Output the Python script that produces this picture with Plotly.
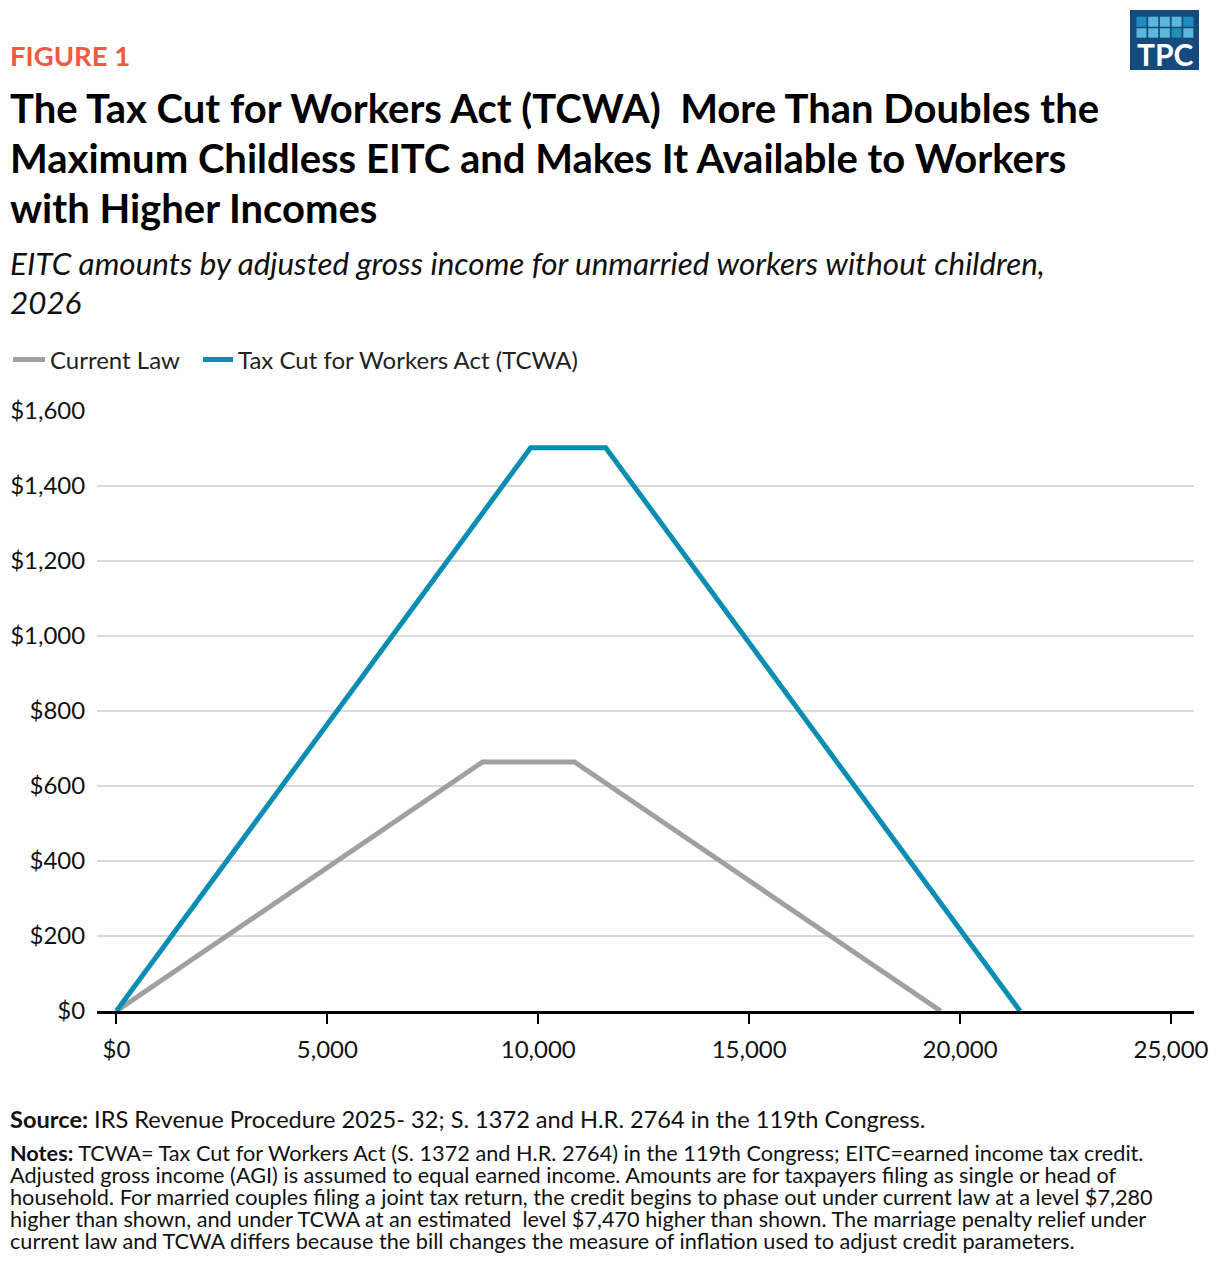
import plotly.graph_objects as go

# ---- data ----
current_law_x = [0, 8680, 10860, 19540]
current_law_y = [0, 664, 664, 0]
tcwa_x = [0, 9820, 11600, 21420]
tcwa_y = [0, 1502, 1502, 0]
x_tickvals = [0, 5000, 10000, 15000, 20000, 25000]
x_ticktext = ["$0", "5,000", "10,000", "15,000", "20,000", "25,000"]
y_tickvals = [0, 200, 400, 600, 800, 1000, 1200, 1400, 1600]
y_ticktext = ["$0", "$200", "$400", "$600", "$800", "$1,000", "$1,200", "$1,400", "$1,600"]

FONT = "Lato, 'Noto Sans', sans-serif"
O = 8  # page offset of the figure in the browser window
W, H = 1220 - O, 1274 - O
L, R, T, B = 97 - O, 1194 - O, 411 - O, 1011 - O


def px(x):
    return (x - O - L) / (R - L)


def py(y):
    return (B - (y - O)) / (B - T)


def cx(x):
    return (x - O) / W


def cy(y):
    return 1 - (y - O) / H


fig = go.Figure()
fig.add_trace(go.Scatter(x=current_law_x, y=current_law_y, mode="lines", name="Current Law",
                         line=dict(color="#A0A0A0", width=5), legend="legend"))
fig.add_trace(go.Scatter(x=tcwa_x, y=tcwa_y, mode="lines", name="Tax Cut for Workers Act (TCWA)",
                         line=dict(color="#0A8DB2", width=5), legend="legend2"))

leg_common = dict(orientation="h", xref="container", yref="container", xanchor="left",
                  yanchor="middle", font=dict(size=24, color="#222222"),
                  bgcolor="rgba(0,0,0,0)", borderwidth=0)

fig.update_layout(
    width=W, height=H,
    margin=dict(l=L, r=W - R, t=T, b=H - B, autoexpand=False),
    paper_bgcolor="white", plot_bgcolor="white",
    font=dict(family=FONT, color="#111111", size=24),
    showlegend=True,
    legend=dict(x=cx(2), y=cy(360), itemwidth=32, **leg_common),
    legend2=dict(x=cx(198), y=cy(360), itemwidth=30, **leg_common),
)
fig.update_xaxes(range=[-460, 25545], tickvals=x_tickvals, ticktext=x_ticktext,
                 showgrid=False, zeroline=False, showline=True, linecolor="black", linewidth=2.5,
                 ticks="outside", ticklen=10, tickwidth=2, tickcolor="black", ticklabelstandoff=5,
                 tickfont=dict(size=24, color="#111111"), fixedrange=True)
fig.update_yaxes(range=[0, 1600], tickvals=y_tickvals, ticktext=y_ticktext,
                 showgrid=True, gridcolor="#D9D9D9", gridwidth=2, zeroline=False, showline=False,
                 ticks="outside", ticklen=6, tickcolor="rgba(0,0,0,0)",
                 tickfont=dict(size=24, color="#111111"), fixedrange=True)

ann = []


def text(s, x, y, size, color="#111111", anchor="left"):
    ann.append(dict(text=s, x=px(x), y=py(y), xref="paper", yref="paper", xanchor=anchor,
                    yanchor="middle", showarrow=False, font=dict(family=FONT, size=size, color=color)))


LX = 8
text("<b>FIGURE 1</b>", LX, 55, 27.5, color="#F05A41")
title_lines = ["The Tax Cut for Workers Act (TCWA)  More Than Doubles the",
               "Maximum Childless EITC and Makes It Available to Workers",
               "with Higher Incomes"]
for i, s in enumerate(title_lines):
    text("<b>" + s + "</b>", LX, 108 + 50 * i, 40, color="#000000")
sub_lines = ["<i>EITC amounts by adjusted gross income for unmarried workers without children,</i>",
             "<i>2026</i>"]
for i, s in enumerate(sub_lines):
    text(s, LX, 263 + 39 * i, 31.4, color="#111111")

text("<b>Source:</b> IRS Revenue Procedure 2025- 32; S. 1372 and H.R. 2764 in the 119th Congress.",
     LX, 1119, 23.6)
notes = [
    "<b>Notes:</b> TCWA= Tax Cut for Workers Act (S. 1372 and H.R. 2764) in the 119th Congress; EITC=earned income tax credit.",
    "Adjusted gross income (AGI) is assumed to equal earned income. Amounts are for taxpayers filing as single or head of",
    "household. For married couples filing a joint tax return, the credit begins to phase out under current law at a level $7,280",
    "higher than shown, and under TCWA at an estimated  level $7,470 higher than shown. The marriage penalty relief under",
    "current law and TCWA differs because the bill changes the measure of inflation used to adjust credit parameters.",
]
for i, s in enumerate(notes):
    text(s, LX, 1153 + 22 * i, 21.7)

# TPC logo
shapes = [dict(type="rect", xref="paper", yref="paper", x0=px(1130), x1=px(1199), y0=py(70), y1=py(10),
               fillcolor="#174A7C", line=dict(width=0), layer="above")]
light, dark = "#5BB8DA", "#1E8FBA"
row_colors = [[dark, light, light, light, dark], [light, light, light, dark, light]]
for r, (y0, y1) in enumerate([(16.7, 26.7), (28.3, 37.7)]):
    for c in range(5):
        x0 = 1136.5 + c * 11.7
        shapes.append(dict(type="rect", xref="paper", yref="paper", x0=px(x0), x1=px(x0 + 10),
                           y0=py(y1), y1=py(y0), fillcolor=row_colors[r][c], line=dict(width=0),
                           layer="above"))
ann.append(dict(text="<b>TPC</b>", x=px(1165), y=py(54), xref="paper", yref="paper",
                xanchor="center", yanchor="middle", showarrow=False,
                font=dict(family=FONT, size=30, color="white")))

fig.update_layout(annotations=ann, shapes=shapes)
fig.write_html("out.html")
